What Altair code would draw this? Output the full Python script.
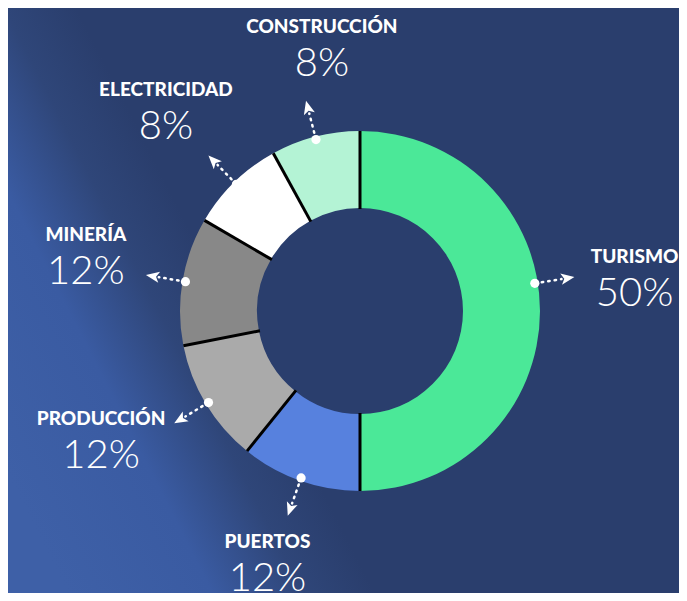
import altair as alt
import pandas as pd

# ---- data ----
categories = ["TURISMO", "PUERTOS", "PRODUCCIÓN", "MINERÍA", "ELECTRICIDAD", "CONSTRUCCIÓN"]
shares = [50, 10.8, 11.1, 11.5, 8.6, 8.0]          # slice sizes as drawn
pct_labels = ["50%", "12%", "12%", "12%", "8%", "8%"]  # printed labels
colors = ["#4be898", "#5781de", "#aaaaaa", "#888888", "#ffffff", "#b4f3d5"]

# ---- layout ----
W, H = 671, 585
CX, CY = 352, 303
R_OUT, R_IN = 180, 103
R_DOT = 177
R_L0, R_L1 = 184, 204
R_HEAD = 210
R_LAB_X, R_LAB_Y = 278, 268
# hand nudges of some text blocks (pixels), like the designer's manual placement
LABEL_NUDGE_X = {"PRODUCCIÓN": -21, "CONSTRUCCIÓN": 31}
LABEL_NUDGE_Y = {"PUERTOS": 4}


def nudge_expr(d):
    expr = "0"
    for k, v in d.items():
        expr = f"(datum.cat === '{k}' ? {v} : {expr})"
    return expr


df = pd.DataFrame({"cat": categories, "share": shares, "pct": pct_labels,
                   "idx": list(range(len(categories)))})

base = (
    alt.Chart(df)
    .transform_joinaggregate(total="sum(share)")
    .transform_window(cum="sum(share)", sort=[alt.SortField("idx")], frame=[None, 0])
    .transform_calculate(start_deg="(datum.cum - datum.share) / datum.total * 360")
    .transform_calculate(mid_deg="(datum.cum - datum.share / 2) / datum.total * 360")
    .transform_calculate(lab_deg="datum.mid_deg > 80 && datum.mid_deg < 100 ? datum.mid_deg - 9 : datum.mid_deg")
    .transform_calculate(la="datum.lab_deg * PI / 180")
    .transform_calculate(sa="datum.start_deg * PI / 180")
    .transform_calculate(
        s0x=f"{CX} + {R_IN - 1} * sin(datum.sa)", s0y=f"{CY} - {R_IN - 1} * cos(datum.sa)",
        s1x=f"{CX} + {R_OUT} * sin(datum.sa)", s1y=f"{CY} - {R_OUT} * cos(datum.sa)",
        dx=f"{CX} + {R_DOT} * sin(datum.la)", dy=f"{CY} - {R_DOT} * cos(datum.la)",
        l0x=f"{CX} + {R_L0} * sin(datum.la)", l0y=f"{CY} - {R_L0} * cos(datum.la)",
        l1x=f"{CX} + {R_L1} * sin(datum.la)", l1y=f"{CY} - {R_L1} * cos(datum.la)",
        hx=f"{CX} + {R_HEAD} * sin(datum.la)", hy=f"{CY} - {R_HEAD} * cos(datum.la)",
        tx=f"{CX} + {R_LAB_X} * sin(datum.la) + {nudge_expr(LABEL_NUDGE_X)}",
        ty=f"{CY} - {R_LAB_Y} * cos(datum.la) + 10 * sin(datum.la) - 4 + {nudge_expr(LABEL_NUDGE_Y)}",
    )
)

bg = alt.Chart(pd.DataFrame({"k": [0]})).mark_rect(
    color=alt.LinearGradient(
        gradient="linear", x1=0, y1=0.8, x2=0.45, y2=0.6,
        stops=[alt.GradientStop(color="#3e60a7", offset=0),
               alt.GradientStop(color="#3a5ba2", offset=0.4),
               alt.GradientStop(color="#2f4679", offset=0.65),
               alt.GradientStop(color="#2a3e6d", offset=0.85),
               alt.GradientStop(color="#2a3e6d", offset=1)],
    )
).encode(x=alt.value(0), x2=alt.value(W), y=alt.value(0), y2=alt.value(H))

arcs = alt.Chart(df).mark_arc(radius=R_OUT, radius2=R_IN).encode(
    theta=alt.Theta("share:Q", stack=True),
    order=alt.Order("idx:Q"),
    color=alt.Color("cat:N", scale=alt.Scale(domain=categories, range=colors), legend=None),
    x=alt.value(CX), y=alt.value(CY),
)

seps = base.mark_rule(color="#000000", strokeWidth=3).encode(
    x=alt.X("s0x:Q", scale=None, axis=None), y=alt.Y("s0y:Q", scale=None, axis=None),
    x2="s1x:Q", y2="s1y:Q",
)

lines = base.mark_rule(color="#ffffff", strokeWidth=2.5, strokeDash=[1.5, 5], strokeCap="round").encode(
    x=alt.X("l0x:Q", scale=None, axis=None), y=alt.Y("l0y:Q", scale=None, axis=None),
    x2="l1x:Q", y2="l1y:Q",
)

dots = base.mark_circle(color="#ffffff", opacity=1, size=85).encode(
    x=alt.X("dx:Q", scale=None, axis=None), y=alt.Y("dy:Q", scale=None, axis=None),
)

heads = base.mark_point(
    shape="M0,-1L0.8,0.9L0,0.45L-0.8,0.9Z", filled=True, color="#ffffff", opacity=1, size=200,
).encode(
    x=alt.X("hx:Q", scale=None, axis=None), y=alt.Y("hy:Q", scale=None, axis=None),
    angle=alt.Angle("lab_deg:Q", scale=None),
)

names = base.mark_text(font="Lato", fontWeight=900, fontSize=19, color="#ffffff",
                       align="center", baseline="middle", dy=-18).encode(
    x=alt.X("tx:Q", scale=None, axis=None), y=alt.Y("ty:Q", scale=None, axis=None),
    text="cat:N",
)

pcts = base.mark_text(font="Lato", fontWeight=300, fontSize=40, color="#ffffff",
                      align="center", baseline="middle", dy=19).encode(
    x=alt.X("tx:Q", scale=None, axis=None), y=alt.Y("ty:Q", scale=None, axis=None),
    text="pct:N",
)

chart = (
    alt.layer(bg, arcs, seps, lines, dots, heads, names, pcts)
    .properties(width=W, height=H, padding=0, autosize=alt.AutoSizeParams(type="none"),
                background="#2b4070")
    .configure_view(stroke=None)
)

chart.save("out.html", embed_options={"renderer": "svg", "actions": False})
